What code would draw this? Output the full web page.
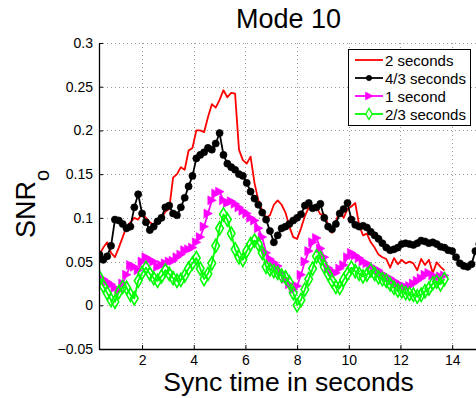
<!DOCTYPE html>
<html>
<head>
<meta charset="utf-8">
<script src="https://cdn.jsdelivr.net/npm/d3@7"></script>
<style>
  body { margin: 0; background: #fff; }
  #wrapper svg { display: block; font-family: "Liberation Sans", Arial, sans-serif; }
</style>
</head>
<body>
<div id="wrapper"></div>
<script>
// sync time grid (seconds) for all series
const timeStart = 0.35
const timeStep = 0.15

// SNR_o for each sync time window
const snr2s = [
  0.058, 0.066, 0.072, 0.06, 0.055, 0.066, 0.078, 0.09, 0.095, 0.1,
  0.098, 0.105, 0.1, 0.095, 0.092, 0.097, 0.1, 0.107, 0.11, 0.146,
  0.15, 0.158, 0.155, 0.177, 0.18, 0.2, 0.2, 0.198, 0.215, 0.23,
  0.226, 0.235, 0.246, 0.238, 0.243, 0.242, 0.178, 0.166, 0.162, 0.17,
  0.14, 0.12, 0.108, 0.1, 0.103, 0.115, 0.12, 0.115, 0.106, 0.09,
  0.078, 0.076, 0.088, 0.102, 0.112, 0.11, 0.112, 0.104, 0.104, 0.092,
  0.083, 0.096, 0.108, 0.1, 0.11, 0.113, 0.117, 0.092, 0.08, 0.082,
  0.072, 0.066, 0.058, 0.055, 0.053, 0.043, 0.054, 0.047, 0.052, 0.048,
  0.05, 0.048, 0.04, 0.053, 0.046, 0.052, 0.037, 0.049, 0.044, 0.04,
]
const snr43s = [
  0.058, 0.052, 0.056, 0.068, 0.098, 0.097, 0.093, 0.088, 0.09, 0.112,
  0.127, 0.105, 0.095, 0.086, 0.09, 0.096, 0.1, 0.112, 0.114, 0.105,
  0.103, 0.112, 0.123, 0.136, 0.148, 0.168, 0.172, 0.175, 0.18, 0.178,
  0.185, 0.197, 0.172, 0.162, 0.158, 0.155, 0.15, 0.148, 0.14, 0.13,
  0.122, 0.115, 0.106, 0.098, 0.085, 0.072, 0.08, 0.088, 0.09, 0.093,
  0.097, 0.1, 0.104, 0.114, 0.117, 0.111, 0.112, 0.116, 0.1, 0.09,
  0.087, 0.093, 0.105, 0.11, 0.117, 0.098, 0.092, 0.09, 0.091, 0.089,
  0.084, 0.08, 0.076, 0.071, 0.066, 0.063, 0.064, 0.066, 0.07, 0.071,
  0.07, 0.069, 0.071, 0.074, 0.073, 0.071, 0.072, 0.07, 0.067, 0.066,
  0.063, 0.062, 0.055, 0.048, 0.045, 0.044, 0.047, 0.062, 0.07, 0.075,
]
const snr1s = [
  0.025, 0.03, 0.027, 0.024, 0.02, 0.017, 0.025, 0.035, 0.046, 0.044,
  0.04, 0.05, 0.055, 0.052, 0.05, 0.044, 0.046, 0.048, 0.05, 0.051,
  0.055, 0.058, 0.063, 0.064, 0.066, 0.072, 0.078, 0.09, 0.105, 0.12,
  0.128, 0.13, 0.12, 0.117, 0.119, 0.116, 0.112, 0.108, 0.105, 0.1,
  0.097, 0.088, 0.078, 0.06, 0.053, 0.049, 0.045, 0.037, 0.03, 0.024,
  0.018, 0.022, 0.035, 0.05, 0.062, 0.072, 0.077, 0.065, 0.055, 0.043,
  0.039, 0.037, 0.042, 0.046, 0.055, 0.06, 0.057, 0.054, 0.05, 0.048,
  0.045, 0.042, 0.04, 0.036, 0.033, 0.031, 0.028, 0.025, 0.023, 0.021,
  0.022, 0.025, 0.028, 0.031, 0.035, 0.037, 0.034, 0.032, 0.033, 0.034,
]
const snr23s = [
  0.032, 0.022, 0.014, 0.006, 0.004, 0.015, 0.021, 0.02, 0.012, 0.008,
  0.028, 0.037, 0.043, 0.036, 0.031, 0.028, 0.033, 0.04, 0.036, 0.031,
  0.028, 0.029, 0.034, 0.042, 0.048, 0.054, 0.042, 0.03, 0.036, 0.048,
  0.068, 0.088, 0.104, 0.098, 0.082, 0.064, 0.055, 0.052, 0.062, 0.07,
  0.074, 0.07, 0.06, 0.044, 0.041, 0.039, 0.037, 0.034, 0.032, 0.026,
  0.014, 0.0, 0.006, 0.018, 0.03, 0.042, 0.056, 0.054, 0.044, 0.036,
  0.028, 0.021, 0.02, 0.029, 0.036, 0.043, 0.039, 0.036, 0.033, 0.035,
  0.04, 0.036, 0.032, 0.03, 0.028, 0.024, 0.02, 0.017, 0.016, 0.014,
  0.013, 0.012, 0.01, 0.012, 0.016, 0.019, 0.025, 0.027, 0.024, 0.03,
]

const seriesNames = ["2 seconds", "4/3 seconds", "1 second", "2/3 seconds"]
const xTicks = [2, 4, 6, 8, 10, 12, 14]
const yTicks = [-0.05, 0, 0.05, 0.1, 0.15, 0.2, 0.25, 0.3]
const yTickLabels = ["\u22120.05", "0", "0.05", "0.1", "0.15", "0.2", "0.25", "0.3"]

function drawChart() {
  // 1. Access data
  const series = [
    { name: seriesNames[0], values: snr2s, color: "#ff0000", marker: "none" },
    { name: seriesNames[1], values: snr43s, color: "#000000", marker: "circle" },
    { name: seriesNames[2], values: snr1s, color: "#ff00ff", marker: "triangle" },
    { name: seriesNames[3], values: snr23s, color: "#00ff00", marker: "diamond" },
  ]
  series.forEach((s) => {
    s.points = s.values.map((v, i) => ({ t: timeStart + i * timeStep, v }))
  })

  const xAccessor = (d) => d.t
  const yAccessor = (d) => d.v

  // 2. Create chart dimensions
  const dimensions = {
    width: 476,
    height: 398,
    margins: { top: 43, right: -2, bottom: 49, left: 99 },
  }
  dimensions.boundedWidth =
    dimensions.width - dimensions.margins.left - dimensions.margins.right
  dimensions.boundedHeight =
    dimensions.height - dimensions.margins.top - dimensions.margins.bottom

  // 3. Draw canvas
  const wrapper = d3
    .select("#wrapper")
    .append("svg")
    .attr("width", dimensions.width)
    .attr("height", dimensions.height)

  const bounds = wrapper
    .append("g")
    .attr("transform", `translate(${dimensions.margins.left},${dimensions.margins.top})`)

  wrapper
    .append("defs")
    .append("clipPath")
    .attr("id", "plot-clip")
    .append("rect")
    .attr("width", dimensions.boundedWidth)
    .attr("height", dimensions.boundedHeight)

  // 4. Create scales
  const xScale = d3
    .scaleLinear()
    .domain([1 / 3, 15])
    .range([0, dimensions.boundedWidth])

  const yScale = d3
    .scaleLinear()
    .domain([-0.05, 0.3])
    .range([dimensions.boundedHeight, 0])

  // grid (dotted)
  const grid = bounds.append("g").attr("stroke", "#9a9a9a").attr("stroke-width", 1)
    .attr("stroke-dasharray", "1,3")
  grid.selectAll(".vgrid")
    .data(xTicks)
    .join("line")
    .attr("x1", (d) => Math.round(xScale(d)) + 0.5)
    .attr("x2", (d) => Math.round(xScale(d)) + 0.5)
    .attr("y1", 0)
    .attr("y2", dimensions.boundedHeight)
  grid.selectAll(".hgrid")
    .data(yTicks.filter((d) => d > -0.05))
    .join("line")
    .attr("x1", 0)
    .attr("x2", dimensions.boundedWidth)
    .attr("y1", (d) => Math.round(yScale(d)) + 0.5)
    .attr("y2", (d) => Math.round(yScale(d)) + 0.5)

  // 5. Draw data
  const lineGenerator = d3
    .line()
    .x((d) => xScale(xAccessor(d)))
    .y((d) => yScale(yAccessor(d)))

  const plot = bounds.append("g").attr("clip-path", "url(#plot-clip)")

  const symbolPath = (marker, size) => {
    if (marker === "circle") return d3.symbol(d3.symbolCircle, size)()
    if (marker === "diamond") return d3.symbol(d3.symbolDiamond, size)()
    if (marker === "triangle") return "M-4,-4.5L4.5,0L-4,4.5Z"
    return null
  }

  series.forEach((s) => {
    const g = plot.append("g")
    g.append("path")
      .datum(s.points)
      .attr("d", lineGenerator)
      .attr("fill", "none")
      .attr("stroke", s.color)
      .attr("stroke-width", 1.8)
      .attr("stroke-linejoin", "round")

    if (s.marker !== "none") {
      g.selectAll("path.marker")
        .data(s.points)
        .join("path")
        .attr("class", "marker")
        .attr("transform", (d) => `translate(${xScale(xAccessor(d))},${yScale(yAccessor(d))})`)
        .attr("d", symbolPath(s.marker, s.marker === "circle" ? 40 : 50))
        .attr("fill", s.marker === "diamond" ? "none" : s.color)
        .attr("stroke", s.color)
        .attr("stroke-width", s.marker === "diamond" ? 1.6 : 0.6)
    }
  })

  // 6. Draw peripherals
  const yAxisGenerator = d3
    .axisLeft(yScale)
    .tickValues(yTicks)
    .tickFormat((d, i) => yTickLabels[i])
    .tickSizeInner(-4)
    .tickSizeOuter(0)
    .tickPadding(6)

  const yAxis = bounds.append("g").call(yAxisGenerator)

  const xAxisGenerator = d3
    .axisBottom(xScale)
    .tickValues(xTicks)
    .tickSizeInner(-4)
    .tickSizeOuter(0)
    .tickPadding(6)

  const xAxis = bounds
    .append("g")
    .attr("transform", `translate(0,${dimensions.boundedHeight})`)
    .call(xAxisGenerator)

  ;[xAxis, yAxis].forEach((ax) => {
    ax.select(".domain").attr("stroke", "#000").attr("stroke-width", 1.3)
    ax.selectAll(".tick line").attr("stroke", "#000")
    ax.selectAll(".tick text")
      .attr("fill", "#000")
      .style("font-size", "14px")
      .style("font-family", "'Liberation Sans', Arial, sans-serif")
  })

  // title and axis labels
  wrapper
    .append("text")
    .attr("x", dimensions.margins.left + dimensions.boundedWidth / 2)
    .attr("y", 28)
    .attr("text-anchor", "middle")
    .style("font-size", "27px")
    .text("Mode 10")

  wrapper
    .append("text")
    .attr("x", dimensions.margins.left + dimensions.boundedWidth / 2)
    .attr("y", 391)
    .attr("text-anchor", "middle")
    .style("font-size", "26.5px")
    .text("Sync time in seconds")

  const yLabel = wrapper
    .append("text")
    .attr("transform", "translate(35,238) rotate(-90)")
    .style("font-size", "27px")
  yLabel.append("tspan").text("SNR")
  yLabel.append("tspan").attr("dy", 14).style("font-size", "20px").text("o")

  // legend
  const legend = wrapper.append("g").attr("transform", "translate(348,49)")
  legend
    .append("rect")
    .attr("x", 0.5)
    .attr("y", 0.5)
    .attr("width", 122)
    .attr("height", 76)
    .attr("fill", "#fff")
    .attr("stroke", "#000")
    .attr("stroke-width", 1)

  const rows = legend
    .selectAll(".row")
    .data(series)
    .join("g")
    .attr("transform", (d, i) => `translate(0,${11 + i * 18})`)

  rows.append("line")
    .attr("x1", 7)
    .attr("x2", 35)
    .attr("stroke", (d) => d.color)
    .attr("stroke-width", 1.8)

  rows.filter((d) => d.marker !== "none")
    .append("path")
    .attr("transform", "translate(21,0)")
    .attr("d", (d) => (d.marker === "triangle" ? "M-3.5,-4L4,0L-3.5,4Z" : symbolPath(d.marker, d.marker === "circle" ? 22 : 36)))
    .attr("fill", (d) => (d.marker === "diamond" ? "#e8ffe8" : d.color))
    .attr("stroke", (d) => d.color)
    .attr("stroke-width", (d) => (d.marker === "diamond" ? 1.2 : 0.6))

  rows.append("text")
    .attr("x", 37)
    .attr("y", 5.5)
    .style("font-size", "15px")
    .text((d) => d.name)
}

drawChart()
</script>
</body>
</html>
